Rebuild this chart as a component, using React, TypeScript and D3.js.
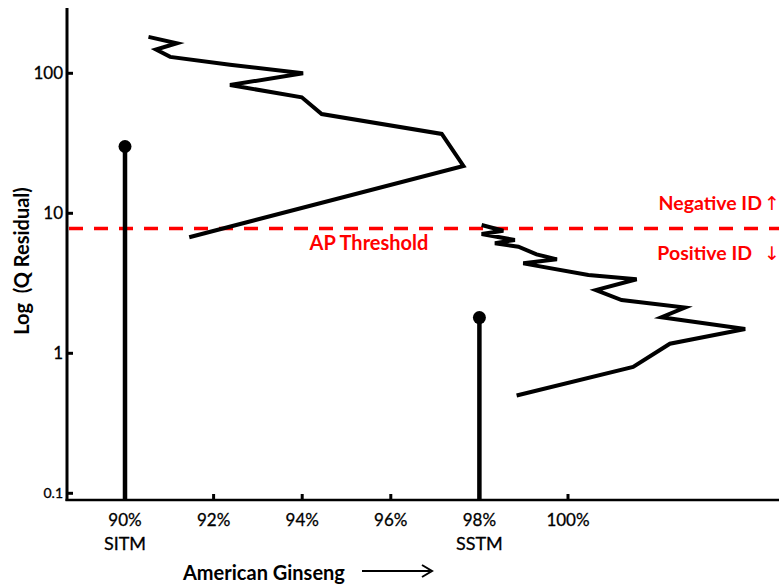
import React from 'react';
import * as d3 from 'd3';

const W = 779;
const H = 588;

// axis ticks
const xTicks = [90, 92, 94, 96, 98, 100];
const xTickLabels = ['90%', '92%', '94%', '96%', '98%', '100%'];
const yTicks = [0.1, 1, 10, 100];
const yTickLabels = ['0.1', '1', '10', '100'];

// upper curve (SITM side)
const curve1Pct = [90.53, 91.17, 90.7, 91.02, 92.37, 94.02, 92.37, 93.99, 94.44, 97.15, 97.64, 91.45];
const curve1Q = [182, 164, 148, 131, 115, 100, 82.5, 67.4, 51.2, 36.9, 21.8, 6.74];

// lower curve (SSTM side)
const curve2Pct = [98.05, 98.54, 98.05, 98.8, 98.35, 98.88, 99.29, 99.75, 98.99, 100.46, 101.55, 100.63, 101.21, 102.64, 102.11, 104.0, 102.3, 101.47, 98.84];
const curve2Q = [8.25, 7.51, 7.11, 6.45, 6.11, 5.77, 5.09, 4.69, 4.39, 3.63, 3.38, 2.83, 2.4, 2.12, 1.81, 1.49, 1.17, 0.8, 0.5];

// stems
const stemPct = [90, 98];
const stemQ = [30, 1.8];
const stemLabels = ['SITM', 'SSTM'];

const threshold = 7.8;

const FONT = 'Lato, "Open Sans", sans-serif';
const RED = '#ff0000';

export default function App() {
  const left = 67;
  const right = W;
  const top = 8;
  const bottom = 500;

  const x = d3.scaleLinear().domain([90, 100]).range([125, 568]);
  const y = d3.scaleLog().domain([1, 100]).range([353.3, 73.3]);

  const line = d3
    .line<number>()
    .x((d) => d[0])
    .y((d) => d[1]);

  const path1 = line(curve1Pct.map((p, i) => [x(p), y(curve1Q[i])]) as any);
  const path2 = line(curve2Pct.map((p, i) => [x(p), y(curve2Q[i])]) as any);

  const ty = y(threshold);

  return (
    <svg width={W} height={H} style={{ position: 'absolute', left: 0, top: 0 }}>
      <rect width={W} height={H} fill="#fff" />

      {/* axes */}
      <line x1={left} x2={left} y1={top} y2={bottom + 1} stroke="#000" strokeWidth={3} />
      <line x1={left - 1.5} x2={right} y1={bottom} y2={bottom} stroke="#000" strokeWidth={2.5} />

      {yTicks.map((t, i) => (
        <g key={'y' + t}>
          <line x1={left} x2={left + 6} y1={y(t)} y2={y(t)} stroke="#000" strokeWidth={3} />
          <text
            x={left - 4}
            y={y(t)}
            dy="0.35em"
            textAnchor="end"
            fontFamily={FONT}
            fontSize={t < 1 ? 14 : 17}
            fill="#000"
            stroke="#000"
            strokeWidth={0.3}
          >
            {yTickLabels[i]}
          </text>
        </g>
      ))}

      {xTicks.map((t, i) => (
        <g key={'x' + t}>
          <line x1={x(t)} x2={x(t)} y1={bottom} y2={bottom - 6} stroke="#000" strokeWidth={3} />
          <text
            x={x(t)}
            y={526}
            textAnchor="middle"
            fontFamily={FONT}
            fontSize={17}
            fill="#000"
            stroke="#000"
            strokeWidth={0.3}
          >
            {xTickLabels[i]}
          </text>
        </g>
      ))}

      {/* threshold */}
      <line
        x1={left + 2}
        x2={right}
        y1={ty}
        y2={ty}
        stroke={RED}
        strokeWidth={3.5}
        strokeDasharray="14,11"
      />
      <text x={369} y={250} textAnchor="middle" fontFamily={FONT} fontWeight="bold" fontSize={20} fill={RED}>
        AP Threshold
      </text>
      <text x={762} y={210} textAnchor="end" fontFamily={FONT} fontWeight="bold" fontSize={19.5} fill={RED}>
        Negative ID
      </text>
      <text x={772} y={210} textAnchor="middle" fontFamily='"DejaVu Sans", sans-serif' fontSize={19} fill={RED}>
        ↑
      </text>
      <text x={752} y={260} textAnchor="end" fontFamily={FONT} fontWeight="bold" fontSize={19.5} fill={RED}>
        Positive ID
      </text>
      <text x={772} y={260} textAnchor="middle" fontFamily='"DejaVu Sans", sans-serif' fontSize={19} fill={RED}>
        ↓
      </text>

      {/* curves */}
      <path d={path1 || ''} fill="none" stroke="#000" strokeWidth={4} />
      <path d={path2 || ''} fill="none" stroke="#000" strokeWidth={4} />

      {/* stems */}
      {stemPct.map((p, i) => (
        <g key={'s' + p}>
          <line x1={x(p)} x2={x(p)} y1={bottom} y2={y(stemQ[i])} stroke="#000" strokeWidth={4.5} />
          <circle cx={x(p)} cy={y(stemQ[i])} r={6.5} fill="#000" />
          <text
            x={x(p)}
            y={550}
            textAnchor="middle"
            fontFamily={FONT}
            fontSize={18}
            fill="#000"
            stroke="#000"
            strokeWidth={0.3}
          >
            {stemLabels[i]}
          </text>
        </g>
      ))}

      {/* axis titles */}
      <text
        transform={`translate(29,261) rotate(-90)`}
        textAnchor="middle"
        fontFamily={FONT}
        fontWeight="bold"
        fontSize={20}
        fill="#000"
      >
        {'Log\u00a0\u00a0(Q Residual)'}
      </text>
      <text x={183} y={580} fontFamily={FONT} fontWeight="bold" fontSize={20} fill="#000">
        American Ginseng
      </text>
      <line x1={362} x2={430} y1={571} y2={571} stroke="#000" strokeWidth={2} />
      <path d="M422,565 L432,571 L422,577" fill="none" stroke="#000" strokeWidth={2} />
    </svg>
  );
}
